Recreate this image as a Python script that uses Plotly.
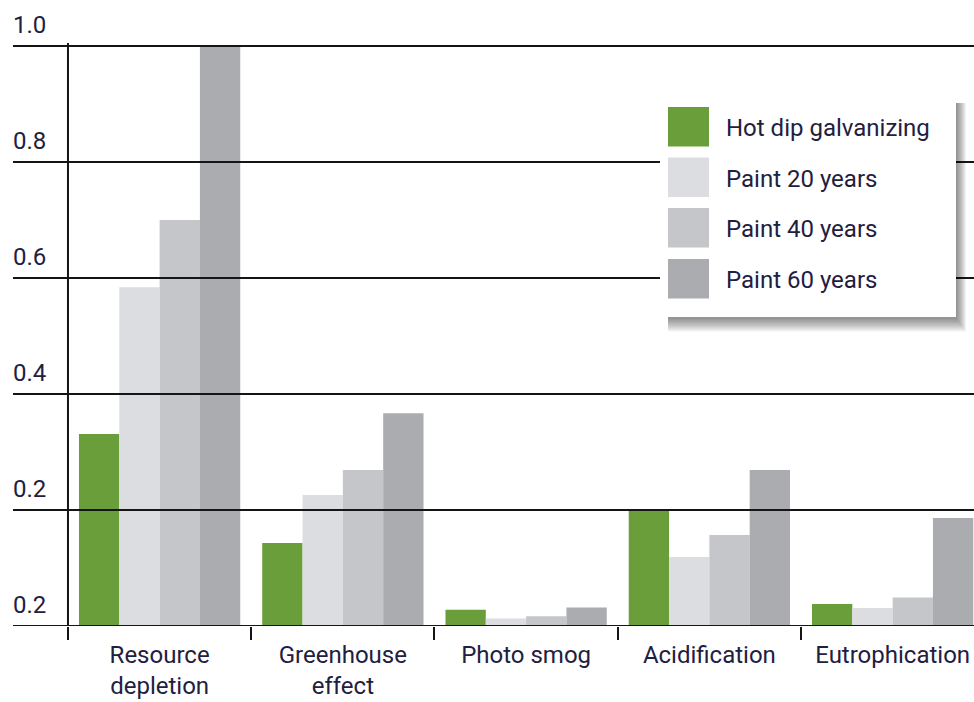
import plotly.graph_objects as go

categories = ["Resource<br>depletion", "Greenhouse<br>effect", "Photo smog", "Acidification", "Eutrophication"]
series_names = ["Hot dip galvanizing", "Paint 20 years", "Paint 40 years", "Paint 60 years"]
hot_dip = [0.331, 0.143, 0.028, 0.199, 0.038]
paint_20 = [0.584, 0.226, 0.013, 0.119, 0.031]
paint_40 = [0.700, 0.269, 0.017, 0.157, 0.049]
paint_60 = [1.000, 0.367, 0.032, 0.269, 0.186]
ytick_vals = [0, 0.2, 0.4, 0.6, 0.8, 1.0]
ytick_text = ["0.2", "0.2", "0.4", "0.6", "0.8", "1.0"]

colors = ["#6a9e3a", "#dcdde0", "#c5c6ca", "#abacb0"]
FONT = "Roboto, Lato, sans-serif"
TXT = "#1f2040"

W, H = 974, 702
L, R, T, B = 13, 0, 0, 76
PW, PH = W - L - R, H - T - B
UNIT_PX = 580  # pixels per 1.0 on the y axis


def px(x):
    return (x - L) / PW


def py(y):
    return (H - B - y) / PH


fig = go.Figure()
for name, vals, col in zip(series_names, [hot_dip, paint_20, paint_40, paint_60], colors):
    fig.add_trace(go.Bar(x=categories, y=vals, name=name, marker=dict(color=col, line=dict(width=0)),
                         showlegend=False))

shapes = []
# gridlines above bars
for v in ytick_vals:
    shapes.append(dict(type="line", xref="paper", yref="y", x0=0, x1=1, y0=v, y1=v,
                       line=dict(color="#151515", width=2), layer="above"))
# y axis line
shapes.append(dict(type="line", xref="x", yref="y", x0=-0.5, x1=-0.5, y0=0, y1=1.005,
                   line=dict(color="#151515", width=2), layer="above"))

# legend box with soft drop shadow (right / bottom)
bx0, bx1, by0, by1 = 660, 956, 95, 317
for s in range(0, 10):
    shapes.append(dict(type="rect", xref="paper", yref="paper",
                       x0=px(bx0 + 8), x1=px(bx1 + 1 + s), y0=py(by1 + 2 + 1.4 * s), y1=py(by0 + 8),
                       fillcolor="rgba(0,0,0,0.05)", line=dict(width=0), layer="above"))
shapes.append(dict(type="rect", xref="paper", yref="paper",
                   x0=px(bx0), x1=px(bx1), y0=py(by1), y1=py(by0),
                   fillcolor="white", line=dict(width=0), layer="above"))
annotations = []
row_tops = [107, 157.5, 208, 259]
for name, col, top in zip(series_names, colors, row_tops):
    shapes.append(dict(type="rect", xref="paper", yref="paper",
                       x0=px(668), x1=px(709), y0=py(top + 39.5), y1=py(top),
                       fillcolor=col, line=dict(width=0), layer="above"))
    annotations.append(dict(xref="paper", yref="paper", x=px(724), y=py(top + 21),
                            xanchor="left", yanchor="middle", text=name, showarrow=False,
                            font=dict(family=FONT, size=24, color=TXT)))

fig.update_layout(
    width=W, height=H,
    margin=dict(l=L, r=R, t=T, b=B, autoexpand=False),
    paper_bgcolor="white", plot_bgcolor="white",
    barmode="group", bargap=0.12, bargroupgap=0,
    shapes=shapes, annotations=annotations,
    xaxis=dict(type="category", categoryorder="array", categoryarray=categories,
               range=[-0.8, 4.444], showgrid=False, showline=False, zeroline=False,
               ticks="outside", tickson="boundaries", ticklen=13, tickwidth=2, tickcolor="#151515",
               ticklabelstandoff=12,
               tickfont=dict(family=FONT, size=24, color=TXT), automargin=False, fixedrange=True),
    yaxis=dict(range=[0, PH / UNIT_PX], tickvals=ytick_vals, ticktext=ytick_text,
               ticklabelposition="inside", ticklabelshift=-21, ticklabelstandoff=-3,
               showgrid=False, zeroline=False, showline=False, ticks="",
               tickfont=dict(family=FONT, size=24, color=TXT), automargin=False, fixedrange=True),
)

fig.write_html("out.html")
